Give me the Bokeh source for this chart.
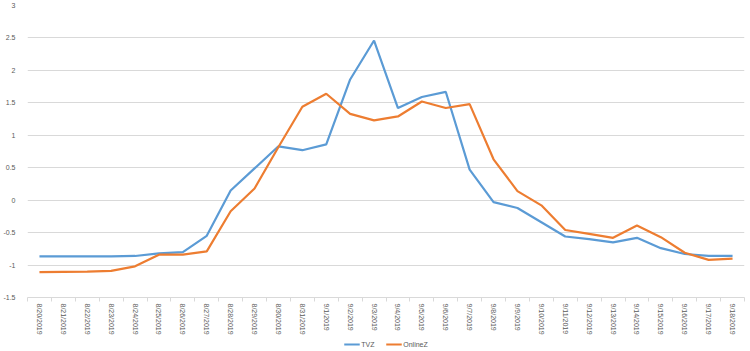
from bokeh.plotting import figure
from bokeh.layouts import column
from bokeh.models import Range1d, FixedTicker, Legend, LegendItem
from bokeh.embed import file_html
from bokeh.resources import INLINE

dates = ["8/20/2019", "8/21/2019", "8/22/2019", "8/23/2019", "8/24/2019", "8/25/2019",
         "8/26/2019", "8/27/2019", "8/28/2019", "8/29/2019", "8/30/2019", "8/31/2019",
         "9/1/2019", "9/2/2019", "9/3/2019", "9/4/2019", "9/5/2019", "9/6/2019",
         "9/7/2019", "9/8/2019", "9/9/2019", "9/10/2019", "9/11/2019", "9/12/2019",
         "9/13/2019", "9/14/2019", "9/15/2019", "9/16/2019", "9/17/2019", "9/18/2019"]

tvz = [-0.865, -0.865, -0.865, -0.865, -0.86, -0.82, -0.80, -0.55, 0.15, 0.49,
       0.83, 0.77, 0.86, 1.86, 2.46, 1.42, 1.59, 1.67, 0.47, -0.03,
       -0.12, -0.34, -0.56, -0.60, -0.65, -0.58, -0.74, -0.83, -0.86, -0.86]

onlinez = [-1.11, -1.105, -1.10, -1.09, -1.02, -0.84, -0.84, -0.79, -0.17, 0.18,
           0.82, 1.44, 1.64, 1.33, 1.23, 1.29, 1.52, 1.42, 1.48, 0.63,
           0.14, -0.08, -0.46, -0.52, -0.58, -0.39, -0.57, -0.81, -0.92, -0.90]

series_names = ["TVZ", "OnlineZ"]
series_colors = ["#5B9BD5", "#ED7D31"]
series_values = [tvz, onlinez]

y_ticks = [-1.5, -1, -0.5, 0, 0.5, 1, 1.5, 2, 2.5, 3]
y_tick_labels = ["-1.5", "-1", "-0.5", "0", "0.5", "1", "1.5", "2", "2.5", "3"]

n = len(dates)
xs = [i + 0.5 for i in range(n)]

FONT = "Liberation Sans"
GRID = "#d9d9d9"
TXT = "#595959"

p = figure(width=750, height=337, output_backend="svg", toolbar_location=None,
           x_range=Range1d(0, n), y_range=Range1d(-1.5, 3))
p.min_border_left = 20
p.min_border_right = 6
p.min_border_top = 5
p.min_border_bottom = 39
p.outline_line_color = None
p.background_fill_color = "white"
p.border_fill_color = "white"

for vals, col in zip(series_values, series_colors):
    p.line(xs, vals, line_color=col, line_width=2.2)

# x axis
p.xaxis.ticker = FixedTicker(ticks=xs, minor_ticks=list(range(n + 1)))
p.xaxis.major_label_overrides = {x: d for x, d in zip(xs, dates)}
p.xaxis.major_label_orientation = "vertical"
p.xaxis.major_label_text_font = FONT
p.xaxis.major_label_text_font_size = "7px"
p.xaxis.major_label_text_color = TXT
p.xaxis.major_tick_out = 0
p.xaxis.major_tick_in = 0
p.xaxis.minor_tick_out = 4
p.xaxis.minor_tick_in = 0
p.xaxis.minor_tick_line_color = GRID
p.xaxis.axis_line_color = GRID
p.xaxis.major_label_standoff = 2
p.xgrid.visible = False

# y axis
p.yaxis.ticker = FixedTicker(ticks=y_ticks)
p.yaxis.major_label_overrides = {t: l for t, l in zip(y_ticks, y_tick_labels)}
p.yaxis.major_label_text_font = FONT
p.yaxis.major_label_text_font_size = "7px"
p.yaxis.major_label_text_color = TXT
p.yaxis.axis_line_color = None
p.yaxis.major_tick_line_color = None
p.yaxis.minor_tick_line_color = None
p.yaxis.major_label_standoff = 6
p.ygrid.ticker = FixedTicker(ticks=y_ticks)
p.ygrid.grid_line_color = GRID
p.ygrid.grid_line_width = 1

# legend strip below the chart (same series, drawn outside this strip's visible range)
lf = figure(width=750, height=14, output_backend="svg", toolbar_location=None,
            x_axis_type=None, y_axis_type=None,
            x_range=Range1d(0, n), y_range=Range1d(100, 101))
lf.min_border_left = 0
lf.min_border_right = 0
lf.min_border_top = 0
lf.min_border_bottom = 0
lf.outline_line_color = None
lf.grid.visible = False
items = []
for name, vals, col in zip(series_names, series_values, series_colors):
    r = lf.line(xs, vals, line_color=col, line_width=2.2)
    items.append(LegendItem(label=name, renderers=[r]))
legend = Legend(items=items, orientation="horizontal", location="center")
legend.label_text_font = FONT
legend.label_text_font_size = "7px"
legend.label_text_color = TXT
legend.glyph_width = 16
legend.glyph_height = 8
legend.label_standoff = 2
legend.spacing = 4
legend.padding = 0
legend.margin = 0
legend.label_height = 8
legend.border_line_color = None
legend.background_fill_alpha = 0
lf.add_layout(legend)

layout = column(p, lf, spacing=0)
open("out.html", "w").write(file_html(layout, INLINE))
